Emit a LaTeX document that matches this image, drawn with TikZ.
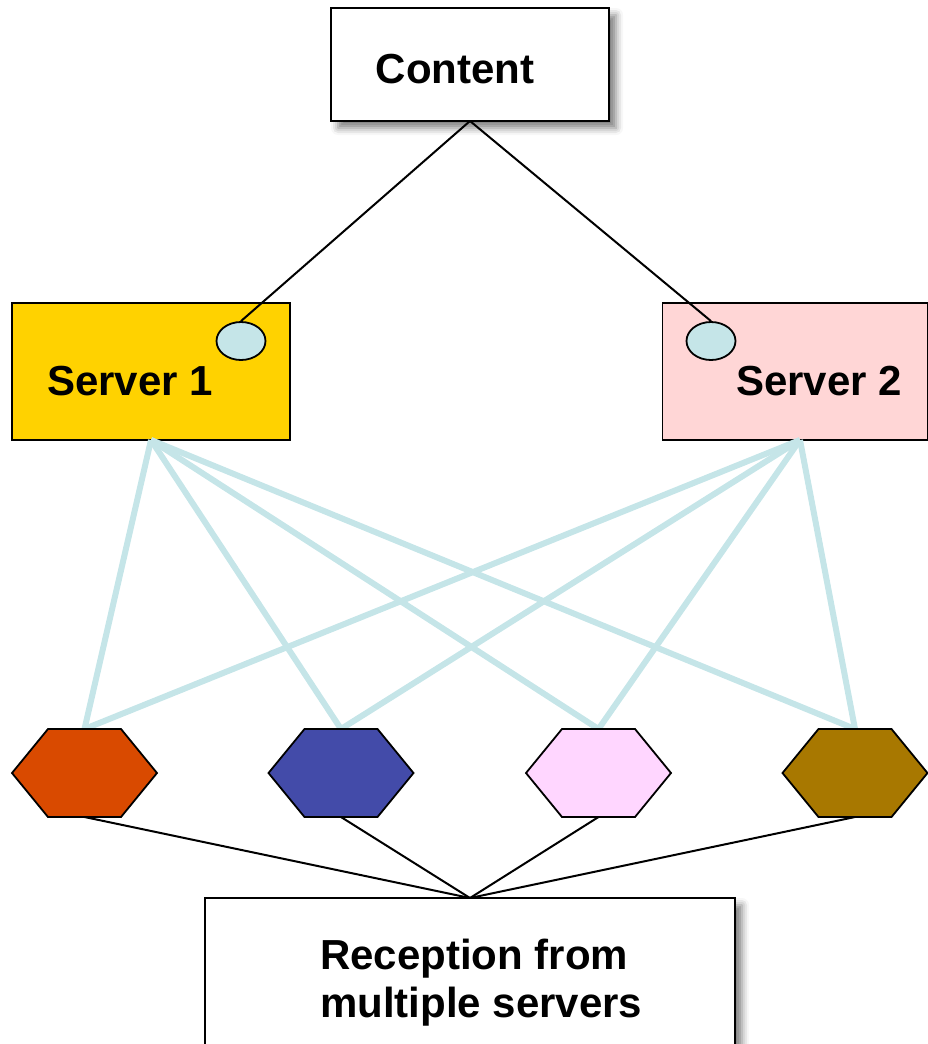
\documentclass[tikz,border=0pt]{standalone}
\usepackage{fontspec}
\setmainfont{Liberation Sans}
\usetikzlibrary{shadows.blur,shapes.geometric}

% colours
\definecolor{serverA}{HTML}{FFD200}
\definecolor{serverB}{HTML}{FFD6D6}
\definecolor{port}{HTML}{C5E5E8}
\definecolor{link}{HTML}{C5E5E8}
\definecolor{hexA}{HTML}{D94A00}
\definecolor{hexB}{HTML}{434BA9}
\definecolor{hexC}{HTML}{FFD6FF}
\definecolor{hexD}{HTML}{A87800}

% move a label inside its box without changing the box size
\newcommand\movedtext[3]{\hspace*{#1}\raisebox{#2}[\height][\depth]{#3}\hspace*{-#1}}

\tikzset{
  every node/.style={font=\fontsize{42}{48}\selectfont\bfseries},
  box/.style={draw=black, line width=1.8pt, inner sep=0pt, outer sep=0pt},
  shadowed/.style={blur shadow={shadow xshift=7pt, shadow yshift=-7pt, shadow blur radius=7pt, shadow opacity=50}},
  portmark/.style={draw=black, line width=1.8pt, fill=port, ellipse, minimum width=49pt, minimum height=38pt, inner sep=0pt},
  hexslot/.style={minimum width=145pt, minimum height=88pt, inner sep=0pt, outer sep=0pt},
  hexline/.style={draw=black, line width=1.8pt, line join=miter},
  wire/.style={draw=black, line width=2pt},
  feed/.style={draw=link, line width=6pt},
}

\begin{document}
\begin{tikzpicture}[x=1pt, y=-1pt]
\useasboundingbox (0,0) rectangle (928,1044);

% source and servers
\node[box, shadowed, fill=white, minimum width=278pt, minimum height=113pt] (content)
  at (470,64.5) {\movedtext{-15pt}{-5pt}{Content}};
\node[box, fill=serverA, minimum width=278pt, minimum height=137pt] (s1)
  at (151,371.5) {\movedtext{-21pt}{-10pt}{Server 1}};
\node[box, fill=serverB, minimum width=265pt, minimum height=137pt] (s2)
  at (795,371.5) {\movedtext{24pt}{-10pt}{Server 2}};

% receivers (outline drawn after the feeds)
\node[hexslot] (h1) at (84.5,773) {};
\node[hexslot] (h2) at (341,773) {};
\node[hexslot] (h3) at (598.5,773) {};
\node[hexslot] (h4) at (855,773) {};

% receiving end
\node[box, shadowed, fill=white, minimum width=530pt, minimum height=172pt, anchor=north] (rec)
  at (470,898) {};
\node[align=left, anchor=north west, inner sep=0pt] (rectext) at (320,939)
  {Reception from\\multiple servers};

% server ports and their links to the content
\node[portmark] (e1) at (241,341) {};
\node[portmark] (e2) at (711,341) {};
\draw[wire] (content.south) -- (e1.north);
\draw[wire] (content.south) -- (e2.north);

% every server feeds every receiver
\coordinate (s2out) at ([xshift=5pt]s2.south);
\foreach \h in {h1,h2,h3,h4} {
  \draw[feed] (s1.south) -- (\h.north);
  \draw[feed] (s2out) -- (\h.north);
}

% receivers to the reception point
\foreach \h in {h1,h2,h3,h4}
  \draw[wire] (\h.south) -- (rec.north);

% hexagon outlines
\foreach \h/\c in {h1/hexA, h2/hexB, h3/hexC, h4/hexD}
  \draw[hexline, fill=\c] (\h.west) -- ([xshift=36pt]\h.north west) -- ([xshift=-36pt]\h.north east)
    -- (\h.east) -- ([xshift=-36pt]\h.south east) -- ([xshift=36pt]\h.south west) -- cycle;

\end{tikzpicture}
\end{document}
